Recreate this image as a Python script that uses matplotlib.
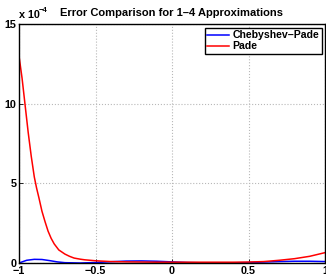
import matplotlib
matplotlib.use('Agg')
import matplotlib.pyplot as plt

plt.rcParams['font.family'] = ['Liberation Sans', 'DejaVu Sans']
plt.rcParams['font.weight'] = 'bold'

# error values, in units of 1e-4
x_pade = [-1.0, -0.99, -0.98, -0.97, -0.96, -0.95, -0.94, -0.93, -0.92, -0.91,
          -0.9, -0.885, -0.87, -0.85, -0.83, -0.81, -0.79, -0.77, -0.74, -0.7,
          -0.67, -0.64, -0.6, -0.57, -0.5, -0.4, -0.3, -0.2, -0.1, 0.0, 0.1,
          0.2, 0.3, 0.4, 0.5, 0.6, 0.7, 0.8, 0.9, 1.0]
err_pade = [13.0, 12.3, 11.6, 10.75, 9.9, 9.05, 8.2, 7.45, 6.7, 6.05,
            5.4, 4.7, 4.1, 3.25, 2.6, 2.0, 1.55, 1.2, 0.82, 0.56,
            0.42, 0.31, 0.24, 0.2, 0.14, 0.09, 0.07, 0.06, 0.05, 0.05, 0.05,
            0.05, 0.05, 0.05, 0.06, 0.09, 0.17, 0.27, 0.42, 0.65]

x_cheb = [-1.0, -0.95, -0.9, -0.85, -0.8, -0.75, -0.7, -0.6, -0.5, -0.4, -0.3,
          -0.2, -0.1, 0.0, 0.1, 0.2, 0.3, 0.4, 0.5, 0.6, 0.7, 0.8, 0.9, 1.0]
err_cheb = [0.0, 0.17, 0.23, 0.22, 0.15, 0.07, 0.02, 0.0, 0.03, 0.08, 0.12,
            0.13, 0.11, 0.07, 0.03, 0.01, 0.0, 0.01, 0.03, 0.06, 0.09, 0.11,
            0.11, 0.09]

xticks = [-1, -0.5, 0, 0.5, 1]
xticklabels = ['\u22121', '\u22120.5', '0', '0.5', '1']
yticks = [0, 5, 10, 15]

fig = plt.figure(figsize=(3.26, 2.78), dpi=100)
ax = fig.add_axes([19 / 326, 15 / 278, 306 / 326, 239 / 278])

ax.plot(x_cheb, err_cheb, color='#0000ff', lw=1.1, label='Chebyshev\u2013Pade')
ax.plot(x_pade, err_pade, color='#ff0000', lw=1.1, label='Pade')

ax.set_xlim(-1, 1)
ax.set_ylim(0, 15)
ax.set_xticks(xticks)
ax.set_xticklabels(xticklabels)
ax.set_yticks(yticks)
ax.tick_params(direction='in', length=3, width=0.6, labelsize=7.8, pad=2)
for lab in ax.get_xticklabels() + ax.get_yticklabels():
	lab.set_fontweight('bold')
for s in ax.spines.values():
	s.set_linewidth(1.0)

ax.grid(True, linestyle=':', color='#b8b8b8', lw=0.8)

ax.set_title('Error Comparison for 1\u20134 Approximations', fontsize=8,
             fontweight='bold', pad=6)

ax.annotate('x 10', xy=(0, 1), xycoords='axes fraction', xytext=(0, 4),
            textcoords='offset pixels', fontsize=7.8, fontweight='bold',
            ha='left', va='bottom')
ax.annotate('\u22124', xy=(0, 1), xycoords='axes fraction', xytext=(20, 10),
            textcoords='offset pixels', fontsize=5.5, fontweight='bold',
            ha='left', va='bottom')

leg = ax.legend(loc='upper right', bbox_to_anchor=(0.99, 0.985), fontsize=7.6,
                fancybox=False, framealpha=1, edgecolor='black',
                handlelength=2.1, handletextpad=0.3, borderpad=0.25,
                labelspacing=0.1, borderaxespad=0)
leg.get_frame().set_linewidth(1.0)
for t in leg.get_texts():
	t.set_fontweight('bold')

fig.savefig('out.png', dpi=100)
